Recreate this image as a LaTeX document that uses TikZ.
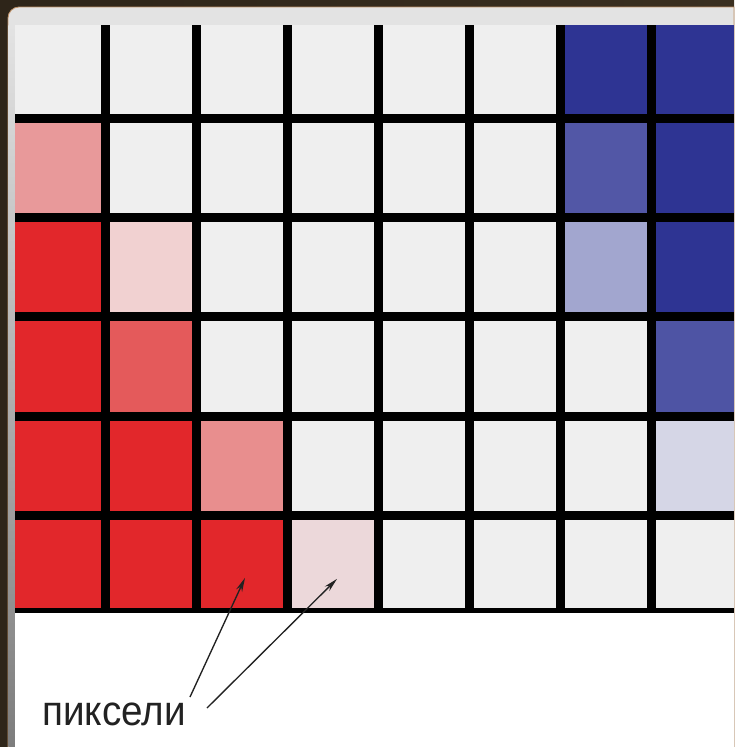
\documentclass[tikz,border=0pt]{standalone}
\usepackage{fontspec}
\setmainfont{Liberation Sans}
\usetikzlibrary{arrows.meta}
\definecolor{framebrown}{HTML}{3A2F20}
\definecolor{framebrownB}{HTML}{2E2519}
\definecolor{panelgray}{HTML}{E3E3E3}
\definecolor{panelrim}{HTML}{C09268}
\definecolor{gy}{HTML}{EFEFEF}
\definecolor{rd}{HTML}{E2272B}
\definecolor{rm}{HTML}{E45A5B}
\definecolor{rl}{HTML}{E8999A}
\definecolor{rk}{HTML}{E88E8E}
\definecolor{rv}{HTML}{F1D1D1}
\definecolor{rp}{HTML}{ECD8DA}
\definecolor{bd}{HTML}{2E3493}
\definecolor{bm}{HTML}{5257A6}
\definecolor{bk}{HTML}{4E54A4}
\definecolor{bl}{HTML}{A2A6CF}
\definecolor{bv}{HTML}{D5D6E6}
\definecolor{textgray}{HTML}{222222}
\definecolor{arrowcol}{HTML}{222222}
\tikzset{
  cell/.style={rectangle, inner sep=0pt, outer sep=0pt, draw=none},
  arr/.style={-{Stealth[length=14pt,width=6.5pt]}, line width=1.35pt, draw=arrowcol},
  lbltext/.style={anchor=base west, inner sep=0pt, text=textgray,
    font=\fontsize{42}{48}\selectfont}
}
\newcommand\pixrow[2]{%
  \foreach \cc [count=\cj] in {#2} {
    \pgfmathsetmacro\xl{\cj==1 ? 15 : 110+91*(\cj-2)}
    \pgfmathsetmacro\xr{\cj==8 ? 734 : 101+91*(\cj-1)}
    \pgfmathsetmacro\yt{#1==1 ? 25 : 123+99.2*(#1-2)}
    \pgfmathsetmacro\yb{#1==6 ? 608 : 114+99.2*(#1-1)}
    \pgfmathsetmacro\ww{\xr-\xl}
    \pgfmathsetmacro\hh{\yb-\yt}
    \pgfmathsetmacro\xm{(\xl+\xr)/2}
    \pgfmathsetmacro\ym{(\yt+\yb)/2}
    \node[cell, fill=\cc, minimum width=\ww pt, minimum height=\hh pt] (c#1\cj) at (\xm,\ym) {};
  }}
\begin{document}
\begin{tikzpicture}[x=1pt,y=-1pt]
\useasboundingbox (0,0) rectangle (734,747);
% dark frame
\shade[left color=framebrownB, right color=framebrown] (0,0) rectangle (734,747);
% light panel with rounded top-left corner
\fill[panelgray, draw=panelrim, line width=0.8pt]
  (8,747) [rounded corners=11pt] -- (8,7) -- (200,7) [sharp corners] -- (734,7) -- (734,747) -- cycle;
% left strip shading
\shade[top color=panelgray, bottom color=black!45!panelgray] (8.4,25) rectangle (15,747);
% white area under the grid
\fill[white] (15,612) rectangle (734,747);
% black grid background
\fill[black] (15,25) rectangle (734,612.5);
% pixels
\pixrow{1}{gy,gy,gy,gy,gy,gy,bd,bd}
\pixrow{2}{rl,gy,gy,gy,gy,gy,bm,bd}
\pixrow{3}{rd,rv,gy,gy,gy,gy,bl,bd}
\pixrow{4}{rd,rm,gy,gy,gy,gy,gy,bk}
\pixrow{5}{rd,rd,rk,gy,gy,gy,gy,bv}
\pixrow{6}{rd,rd,rd,rp,gy,gy,gy,gy}
% label
\node[lbltext] (lbl) at (42,725) {\scalebox{0.92}[1]{пиксели}};
\coordinate (s1) at (190,697);
\coordinate (s2) at (207,708);
\coordinate (t1) at ([shift={(3,14)}]c63.center);
\coordinate (t2) at ([shift={(4,15)}]c64.center);
\draw[arr] (s1) -- (t1);
\draw[arr] (s2) -- (t2);
\end{tikzpicture}
\end{document}
